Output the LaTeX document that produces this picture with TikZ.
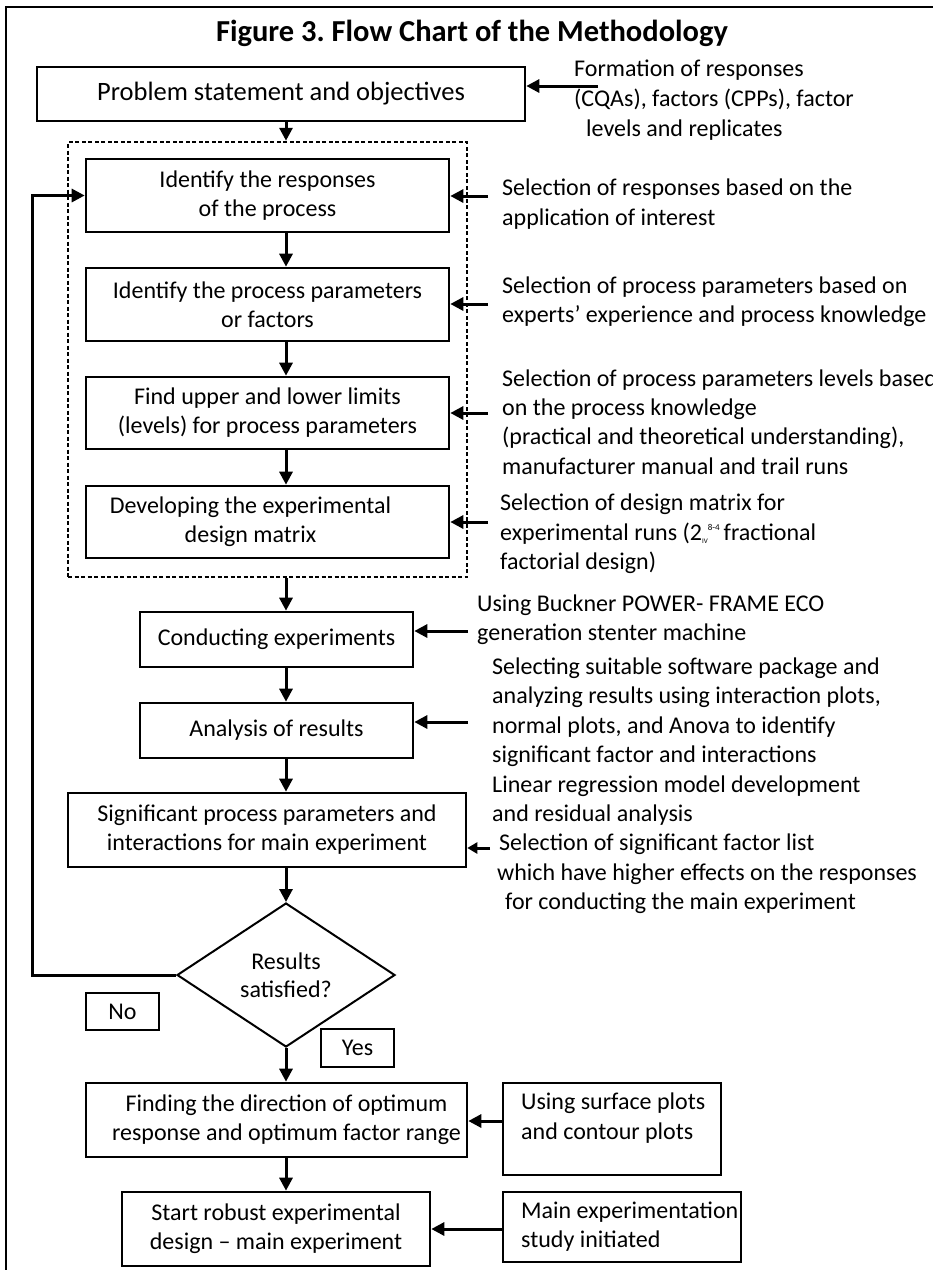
\documentclass[tikz,border=0pt]{standalone}
\usepackage{fontspec}
\setmainfont{Carlito}
\frenchspacing
\usetikzlibrary{arrows.meta,shapes.geometric}
\begin{document}
\begin{tikzpicture}[x=1pt,y=-1pt,
  box/.style={draw, line width=2.6pt, inner sep=0pt, align=center, font=\fontsize{24}{29}\selectfont},
  smallbox/.style={draw, line width=2pt, inner sep=0pt, align=center, font=\fontsize{24}{29}\selectfont},
  txt/.style={inner sep=0pt, align=center, font=\fontsize{24}{29}\selectfont},
  lbl/.style={inner sep=0pt, anchor=west, align=left, font=\fontsize{24}{29.4}\selectfont},
  arr/.style={line width=3pt, -{Triangle[length=13pt,width=13pt]}},
  frame/.style={line width=2.5pt},
  dashbox/.style={draw, line width=2.5pt, dash pattern=on 4pt off 2.5pt, inner sep=0pt}]
\useasboundingbox (0,0) rectangle (933,1270);
\fill[white] (0,0) rectangle (933,1270);
% outer frame (left and top only visible)
\coordinate (fTL) at (6,7);
\draw[frame] (6,1272) -- (fTL) -- (935,7);
% title
\node[inner sep=0pt, font=\fontsize{30.5}{34}\selectfont\bfseries] (title) at (472,33) {Figure 3. Flow Chart of the Methodology};
% spine
\coordinate (sp) at (286,0);
% boxes
\node[box, minimum width=488pt, minimum height=54pt, font=\fontsize{26.5}{30}\selectfont] (b1) at (281,94) {Problem statement and objectives};
\node[dashbox, minimum width=399pt, minimum height=435pt] (dash) at (267.5,359.5) {};
\node[box, minimum width=363pt, minimum height=73pt] (r1) at (267.5,195.5) {Identify the responses\\of the process};
\node[box, minimum width=363pt, minimum height=73pt] (r2) at (267.5,304.5) {Identify the process parameters\\or factors};
\node[box, minimum width=363pt, minimum height=72pt] (r3) at (267.5,413) {Find upper and lower limits\\(levels) for process parameters};
\node[box, minimum width=363pt, minimum height=72pt] (r4) at (267.5,522) {};
\node[txt] (r4t) at ([xshift=-17pt]r4.center) {Developing the experimental\\design matrix};
\node[box, minimum width=273pt, minimum height=55pt] (cond) at (276.5,639.5) {Conducting experiments};
\node[box, minimum width=273pt, minimum height=55pt] (ana) at (276.5,730.5) {Analysis of results};
\node[box, minimum width=398pt, minimum height=74pt] (sig) at (267,830) {Significant process parameters and\\interactions for main experiment};
\node[draw, diamond, line width=2pt, aspect=1.514, minimum width=218pt, minimum height=144pt, inner sep=0pt, align=center, font=\fontsize{24}{28}\selectfont] (dec) at (286,975) {Results\\satisfied?};
\node[smallbox, minimum width=73pt, minimum height=37pt] (no) at (122.5,1011.5) {No};
\node[smallbox, minimum width=73pt, minimum height=38pt] (yes) at (357.5,1048) {Yes};
\node[box, minimum width=381pt, minimum height=74pt] (fnd) at (276.5,1120) {};
\node[txt] (fndt) at ([xshift=10pt]fnd.center) {Finding the direction of optimum\\response and optimum factor range};
\node[box, minimum width=218pt, minimum height=92pt] (surf) at (612,1129) {};
\node[lbl, font=\fontsize{24}{30}\selectfont] (surft) at (521,1118) {Using surface plots\\and contour plots};
\node[box, minimum width=308pt, minimum height=74pt] (start) at (276,1229) {Start robust experimental\\design -- main experiment};
\node[box, minimum width=238pt, minimum height=70pt] (main) at (622,1227) {};
\node[lbl] (maint) at (521,1226.5) {Main experimentation\\study initiated};
% side texts
\node[lbl, font=\fontsize{24}{30}\selectfont] (t1) at (574,100) {Formation of responses\\(CQAs), factors (CPPs), factor\\\hspace*{12pt}levels and replicates};
\node[lbl] (t2) at (502,204) {Selection of responses based on the\\application of interest};
\node[lbl] (t3) at (502,302) {Selection of process parameters based on\\experts’ experience and process knowledge};
\node[lbl] (t4) at (502,422) {Selection of process parameters levels based\\on the process knowledge\\(practical and theoretical understanding),\\manufacturer manual and trail runs};
\node[lbl] (t5) at (500,534) {Selection of design matrix for\\experimental runs (2\raisebox{-3pt}{\fontsize{7}{7}\selectfont IV}\raisebox{10pt}{\fontsize{9}{9}\selectfont 8-4}\,fractional\\factorial design)};
\node[lbl] (t6) at (477,620) {Using Buckner POWER- FRAME ECO\\generation stenter machine};
\node[lbl] (t7) at (492,741.5) {Selecting suitable software package and\\analyzing results using interaction plots,\\normal plots, and Anova to identify\\significant factor and interactions\\Linear regression model development\\and residual analysis};
\node[lbl] (t8) at (497,874) {\hspace*{2pt}Selection of significant factor list\\which have higher effects on the responses\\\hspace*{8pt}for conducting the main experiment};
% main flow arrows
\draw[arr] (b1.south -| sp) -- (dash.north -| sp);
\draw[arr] (r1.south -| sp) -- (r2.north -| sp);
\draw[arr] (r2.south -| sp) -- (r3.north -| sp);
\draw[arr] (r3.south -| sp) -- (r4.north -| sp);
\draw[arr] (dash.south -| sp) -- (cond.north -| sp);
\draw[arr] (cond.south -| sp) -- (ana.north -| sp);
\draw[arr] (ana.south -| sp) -- (sig.north -| sp);
\draw[arr] (sig.south -| sp) -- (dec.north);
\draw[arr] (dec.south) -- (fnd.north -| sp);
\draw[arr] (fnd.south -| sp) -- (start.north -| sp);
% feedback loop
\coordinate (lp) at (32,0);
\draw[arr] (dec.west) -- (dec.west -| lp) -- (r1.west -| lp) -- (r1.west);
% side arrows
\coordinate (a1) at (598,86);
\draw[arr] (a1) -- (a1 -| b1.east);
\coordinate (a2) at (488,196);
\draw[arr] (a2) -- (a2 -| r1.east);
\coordinate (a3) at (488,304);
\draw[arr] (a3) -- (a3 -| r2.east);
\coordinate (a4) at (488,413);
\draw[arr] (a4) -- (a4 -| r3.east);
\coordinate (a5) at (488,522);
\draw[arr] (a5) -- (a5 -| r4.east);
\coordinate (a6) at (468,631);
\draw[arr] (a6) -- (a6 -| cond.east);
\coordinate (a7) at (468,722);
\draw[arr] (a7) -- (a7 -| ana.east);
\coordinate (a8) at (490,848);
\draw[line width=3pt, -{Triangle[length=10pt,width=11pt]}] (a8) -- (a8 -| sig.east);
\coordinate (y9) at (0,1121);
\draw[arr] (surf.west |- y9) -- (fnd.east |- y9);
\coordinate (y10) at (0,1229);
\draw[arr] (main.west |- y10) -- (start.east |- y10);
\end{tikzpicture}
\end{document}
